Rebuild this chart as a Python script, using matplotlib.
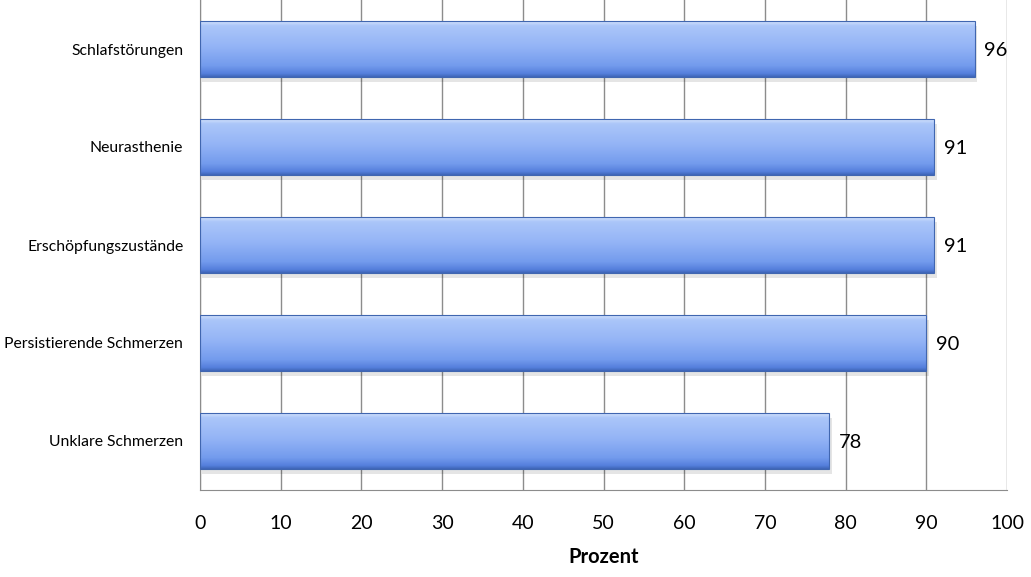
import numpy as np
import matplotlib
matplotlib.use("Agg")
import matplotlib.pyplot as plt
from matplotlib.colors import LinearSegmentedColormap
from matplotlib.patches import Rectangle

categories = ["Schlafstörungen", "Neurasthenie", "Erschöpfungszustände",
              "Persistierende Schmerzen", "Unklare Schmerzen"]
values = [96, 91, 91, 90, 78]
xticks = [0, 10, 20, 30, 40, 50, 60, 70, 80, 90, 100]

plt.rcParams['font.family'] = ['Lato', 'DejaVu Sans']

fig = plt.figure(figsize=(10.31, 5.77), dpi=100)
ax = fig.add_axes([200 / 1031, 87 / 577, 807 / 1031, 490 / 577])

# vertical gradient like the Excel bevelled bars
cmap = LinearSegmentedColormap.from_list("bar", [
    (0.0, "#d2e1fc"), (0.08, "#abc6f9"), (0.45, "#94b4f6"),
    (0.8, "#739bed"), (0.94, "#557fdc"), (1.0, "#3f66b8")])
grad = np.linspace(0, 1, 200).reshape(-1, 1)

h = 0.57
ypos = np.arange(len(categories))
for y, v in zip(ypos, values):
    # soft shadow
    ax.add_patch(Rectangle((0.2, y - h / 2 + 0.05), v + 0.1, h, facecolor="#000000",
                           alpha=0.10, edgecolor="none", zorder=1.5))
    ax.imshow(grad, cmap=cmap, aspect="auto", origin="upper",
              extent=(0, v, y + h / 2, y - h / 2), zorder=2)
    ax.add_patch(Rectangle((0, y - h / 2), v, h, facecolor="none",
                           edgecolor="#4066b0", linewidth=0.8, zorder=3))
    ax.text(v + 1.2, y + 0.02, str(v), va="center", ha="left", fontsize=14.5, color="black")

ax.set_xlim(0, 100)
ax.set_ylim(4.5, -0.5)
ax.set_xticks(xticks)
ax.set_yticks(ypos)
ax.set_yticklabels(categories, fontsize=11.3)
ax.tick_params(axis="x", labelsize=14, length=0, pad=18)
ax.tick_params(axis="y", length=0, pad=12)
ax.grid(axis="x", color="#8c8c8c", linewidth=1)
ax.set_axisbelow(True)
for s in ["top", "right"]:
    ax.spines[s].set_visible(False)
for s in ["left", "bottom"]:
    ax.spines[s].set_color("#8c8c8c")
ax.set_xlabel("Prozent", fontsize=14.5, fontweight="bold", labelpad=11)

fig.savefig("out.png", dpi=100)
